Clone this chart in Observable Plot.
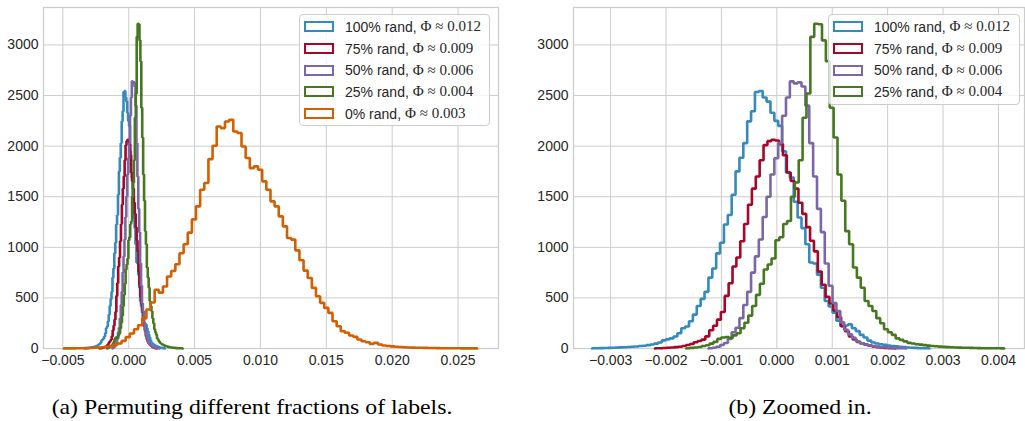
<!DOCTYPE html>
<html>
<head>
<meta charset="utf-8">
<script src="https://cdn.jsdelivr.net/npm/d3@7"></script>
<script src="https://cdn.jsdelivr.net/npm/@observablehq/plot@0.6"></script>
<style>
  body { margin: 0; background: #fff; }
  #fig { position: relative; width: 1025px; height: 421px; overflow: hidden; background: #fff; }
  .panel { position: absolute; top: 0; }
  .legend { position: absolute; box-sizing: border-box; background: rgba(255,255,255,0.8);
            border: 1px solid #cccccc; border-radius: 4px; padding: 1px 4px 1px 4px; }
  .entry { display: flex; align-items: center; height: 21.7px; white-space: nowrap; }
  .swatch { width: 26px; height: 7px; border: 2.6px solid; background: #fff; margin-right: 11px; flex: none; }
  .lbl { font-family: "Liberation Sans", Arial, sans-serif; font-size: 14px; color: #262626; }
  .math { font-family: "Liberation Serif", "Times New Roman", serif; font-size: 15px; color: #262626; }
  .caption { position: absolute; font-family: "Liberation Serif", "Times New Roman", serif; font-size: 22px;
             color: #000; white-space: nowrap; line-height: 22px; transform: translateX(-50%) scaleX(1.08); transform-origin: center; }
</style>
</head>
<body>
<div id="fig"></div>
<script>
// ---- data ----
const seriesNames = ["100% rand", "75% rand", "50% rand", "25% rand", "0% rand"];
const phiValues = ["0.012", "0.009", "0.006", "0.004", "0.003"];
const colors = ["#348ABD", "#A60628", "#7A68A6", "#467821", "#D55E00"];

// histogram bins: first bin left edge, bin width, counts
const blueStart = -0.003335, blueWidth = 0.00007;
const blueCounts = [3,3,4,5,6,8,9,11,12,15,
  18,20,24,27,33,40,48,60,80,90,
  100,118,150,200,218,270,335,420,490,560,
  700,790,940,1045,1225,1320,1520,1750,1885,2030,
  2245,2345,2535,2545,2480,2440,2330,2250,2200,1950,
  1740,1690,1450,1294,1190,1030,850,840,730,600,
  470,415,355,275,222,228,238,200,172,135,
  108,78,60,50,42,36,30,25,22,18,
  14,10,8,6,4,3,2];

const redStart = -0.0022, redWidth = 0.00007;
const redCounts = [2,3,5,7,10,14,18,24,34,45,
  62,74,88,120,180,225,285,360,520,645,
  810,900,1060,1230,1420,1580,1700,1860,2010,2049,
  2062,2055,2020,1910,1740,1655,1580,1440,1330,1200,
  1065,960,760,630,510,445,375,310,220,170,
  120,90,65,50,38,28,20,14,10,6,
  4,2];

const purpleStart = -0.001235, purpleWidth = 0.00007;
const purpleCounts = [3,8,18,35,55,95,160,205,300,430,
  560,750,910,1077,1300,1500,1720,1880,2030,2300,
  2480,2640,2620,2630,2590,2400,2030,1700,1380,1150,
  840,620,450,370,260,185,140,105,72,52,
  40,30,24,19,15,12,8,6,4,3,2];

const greenStart = -0.001635, greenWidth = 0.00007;
const greenCounts = [3,6,10,15,24,32,48,65,95,108,
  112,105,130,150,200,255,325,420,530,640,
  780,830,890,1070,1100,1230,1260,1500,1640,1860,
  2280,2520,3080,3210,3205,3045,2840,2380,2085,1720,
  1460,1160,1030,800,700,600,470,420,370,300,
  250,190,160,135,100,85,70,56,50,42,
  38,33,28,25,22,19,16,14,12,10,
  9,8,7,6,5,4,3,3,2,2,2,1];

const orangeStart = -0.00494, orangeWidth = 0.000314;
const orangeCounts = [1,1,1,2,3,4,5,7,10,13,
  18,25,36,50,75,112,148,190,230,300,
  385,455,580,552,612,712,766,832,942,1030,
  1145,1276,1405,1569,1635,1872,2004,2194,2178,2244,
  2260,2145,2129,1997,1882,1783,1800,1767,1652,1569,
  1454,1405,1306,1207,1092,1076,970,872,770,697,
  599,516,451,401,352,270,220,171,155,128,
  115,89,72,62,46,56,39,30,25,21,
  17,15,12,10,9,8,7,6,5,5,
  4,3,3,2,2,2,1,1,1,1];

const yTicks = [0, 500, 1000, 1500, 2000, 2500, 3000];
const xTicksA = [-0.005, 0.000, 0.005, 0.010, 0.015, 0.020, 0.025];
const xTicksB = [-0.003, -0.002, -0.001, 0.000, 0.001, 0.002, 0.003, 0.004];
const captionA = "(a) Permuting different fractions of labels.";
const captionB = "(b) Zoomed in.";

// ---- build step outlines (matplotlib histtype="step") ----
function stepPoints(start, width, counts) {
  const pts = [{x: start, y: 0}];
  counts.forEach((c, i) => pts.push({x: start + i * width, y: c}));
  const end = start + counts.length * width;
  pts.push({x: end, y: counts[counts.length - 1]});
  pts.push({x: end, y: 0});
  return pts;
}
const hists = [
  stepPoints(blueStart, blueWidth, blueCounts),
  stepPoints(redStart, redWidth, redCounts),
  stepPoints(purpleStart, purpleWidth, purpleCounts),
  stepPoints(greenStart, greenWidth, greenCounts),
  stepPoints(orangeStart, orangeWidth, orangeCounts)
];

const grid = "#cccccc";
function panel(opts, idxs, xTicks) {
  return Plot.plot({
    ...opts,
    y: {domain: [0, 3370]},
    style: {fontFamily: "Liberation Sans, Arial, sans-serif", fontSize: "14px", color: "#262626", background: "transparent"},
    marks: [
      Plot.gridX(xTicks, {stroke: grid, strokeOpacity: 1, strokeWidth: 1}),
      Plot.gridY(yTicks, {stroke: grid, strokeOpacity: 1, strokeWidth: 1}),
      Plot.axisX(xTicks, {tickSize: 0, tickPadding: 7, tickFormat: d3.format(".3f"), label: null}),
      Plot.axisY(yTicks, {tickSize: 0, tickPadding: 5, tickFormat: d3.format("d"), label: null}),
      Plot.frame({stroke: grid, strokeWidth: 1.25}),
      ...idxs.map(i => Plot.line(hists[i], {x: "x", y: "y", stroke: colors[i], strokeWidth: 2.6, curve: "step-after", strokeLinejoin: "miter"}))
    ]
  });
}

const fig = document.getElementById("fig");

const pA = panel({width: 505, height: 380, marginLeft: 43, marginRight: 7, marginTop: 7, marginBottom: 32,
  x: {domain: [-0.00647, 0.02807]}}, [0, 1, 2, 3, 4], xTicksA);
pA.classList.add("panel"); pA.style.left = "0px";
fig.appendChild(pA);

const pB = panel({width: 515, height: 380, marginLeft: 63, marginRight: 1, marginTop: 7, marginBottom: 32,
  x: {domain: [-0.00367, 0.00447]}}, [0, 1, 2, 3], xTicksB);
pB.classList.add("panel"); pB.style.left = "510px";
fig.appendChild(pB);

function legend(left, top, width, idxs) {
  const d = document.createElement("div");
  d.className = "legend";
  d.style.left = left + "px"; d.style.top = top + "px"; d.style.width = width + "px";
  idxs.forEach(i => {
    const e = document.createElement("div");
    e.className = "entry";
    const sw = document.createElement("span");
    sw.className = "swatch"; sw.style.borderColor = colors[i];
    const l = document.createElement("span");
    l.className = "lbl"; l.textContent = seriesNames[i] + ",\u00a0";
    const m = document.createElement("span");
    m.className = "math"; m.textContent = "\u03A6\u2005\u2248\u2005" + phiValues[i];
    e.appendChild(sw); e.appendChild(l); e.appendChild(m);
    d.appendChild(e);
  });
  fig.appendChild(d);
}
legend(299, 14, 191, [0, 1, 2, 3, 4]);
legend(828, 14, 192, [0, 1, 2, 3]);

function caption(text, cx, top) {
  const c = document.createElement("div");
  c.className = "caption";
  c.style.left = cx + "px"; c.style.top = top + "px";
  c.textContent = text;
  fig.appendChild(c);
}
caption(captionA, 251.5, 396);
caption(captionB, 800, 396);
</script>
</body>
</html>
